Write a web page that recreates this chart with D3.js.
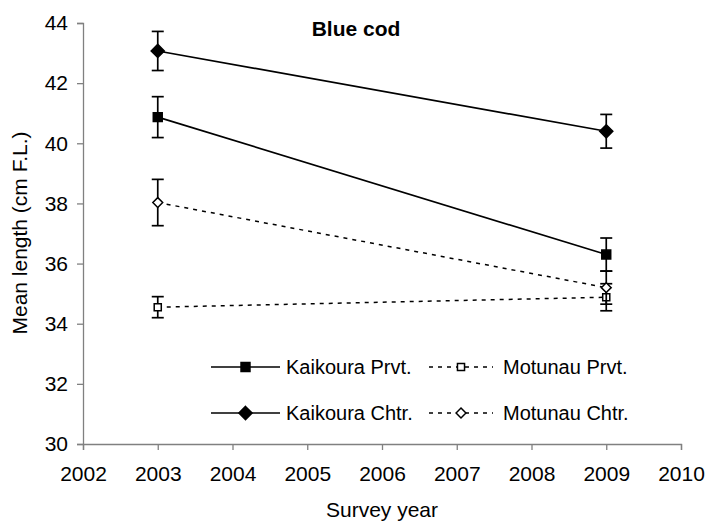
<!DOCTYPE html>
<html>
<head>
<meta charset="utf-8">
<script src="https://cdn.jsdelivr.net/npm/d3@7"></script>
<style>
  html, body { margin: 0; padding: 0; background: #fff; }
  svg { display: block; font-family: "Liberation Sans", Arial, sans-serif; }
</style>
</head>
<body>
<svg id="chart" width="705" height="524"></svg>
<script>
// Survey years and mean lengths (cm F.L.) with error half-widths
const years = [2003, 2009];
const kaikouraPrvt = [40.87, 36.3];
const kaikouraPrvtErr = [0.68, 0.55];
const kaikouraChtr = [43.07, 40.4];
const kaikouraChtrErr = [0.65, 0.56];
const motunauPrvt = [34.55, 34.88];
const motunauPrvtErr = [0.35, 0.45];
const motunauChtr = [38.03, 35.2];
const motunauChtrErr = [0.77, 0.55];

const xTicks = [2002, 2003, 2004, 2005, 2006, 2007, 2008, 2009, 2010];
const yTicks = [30, 32, 34, 36, 38, 40, 42, 44];

const series = [
  { name: "Kaikoura Prvt.", values: kaikouraPrvt, err: kaikouraPrvtErr, symbol: "square", fill: "#000", dashed: false },
  { name: "Kaikoura Chtr.", values: kaikouraChtr, err: kaikouraChtrErr, symbol: "diamond", fill: "#000", dashed: false },
  { name: "Motunau Prvt.", values: motunauPrvt, err: motunauPrvtErr, symbol: "square", fill: "#fff", dashed: true },
  { name: "Motunau Chtr.", values: motunauChtr, err: motunauChtrErr, symbol: "diamond", fill: "#fff", dashed: true }
];

const svg = d3.select("#chart");
const x = d3.scaleLinear().domain([2002, 2010]).range([83, 681]);
const y = d3.scaleLinear().domain([30, 44]).range([444, 23]);

const axisColor = "#808080";
const fontFamily = '"Liberation Sans", Arial, sans-serif';

// Axes
const gx = svg.append("g").attr("transform", "translate(0,444)")
  .call(d3.axisBottom(x).tickValues(xTicks).tickFormat(d3.format("d")).tickSizeOuter(0).tickSize(6).tickPadding(16));
const gy = svg.append("g").attr("transform", "translate(83,0)")
  .call(d3.axisLeft(y).tickValues(yTicks).tickSizeOuter(0).tickSize(6).tickPadding(9));
[gx, gy].forEach(g => {
  g.select(".domain").attr("stroke", axisColor).attr("stroke-width", 1.3);
  g.selectAll(".tick line").attr("stroke", axisColor).attr("stroke-width", 1.3);
  g.selectAll(".tick text").attr("fill", "#000").style("font-size", "21px")
    .style("font-family", fontFamily);
});

// Axis titles and chart title
svg.append("text").attr("x", 382).attr("y", 517).attr("text-anchor", "middle")
  .style("font-size", "21px").text("Survey year");
svg.append("text").attr("transform", "translate(27,233) rotate(-90)").attr("text-anchor", "middle")
  .style("font-size", "21px").text("Mean length (cm F.L.)");
svg.append("text").attr("x", 356).attr("y", 36).attr("text-anchor", "middle")
  .style("font-size", "21px").style("font-weight", "bold").text("Blue cod");

function symbolPath(s) {
  const size = s.symbol === "square" ? (s.fill === "#000" ? 80 : 50) : (s.fill === "#000" ? 110 : 62);
  const type = s.symbol === "square" ? d3.symbolSquare : d3.symbolDiamond2;
  return d3.symbol().type(type).size(size)();
}

const line = d3.line().x(d => x(d.year)).y(d => y(d.value));

series.forEach(s => {
  const pts = years.map((yr, i) => ({ year: yr, value: s.values[i], err: s.err[i] }));
  const g = svg.append("g");
  g.append("path").datum(pts).attr("d", line).attr("fill", "none")
    .attr("stroke", "#000").attr("stroke-width", s.dashed ? 1.5 : 1.7)
    .attr("stroke-dasharray", s.dashed ? "4,5" : null);
  // Error bars
  pts.forEach(p => {
    const cx = x(p.year);
    g.append("line").attr("x1", cx).attr("x2", cx).attr("y1", y(p.value + p.err)).attr("y2", y(p.value - p.err))
      .attr("stroke", "#000").attr("stroke-width", 1.7);
    [p.value + p.err, p.value - p.err].forEach(v => {
      g.append("line").attr("x1", cx - 6).attr("x2", cx + 6).attr("y1", y(v)).attr("y2", y(v))
        .attr("stroke", "#000").attr("stroke-width", 1.7);
    });
  });
  g.selectAll("path.pt").data(pts).enter().append("path").attr("class", "pt")
    .attr("transform", d => `translate(${x(d.year)},${y(d.value)})`)
    .attr("d", symbolPath(s)).attr("fill", s.fill).attr("stroke", "#000").attr("stroke-width", 1.5);
});

// Legend
const legendItems = [
  { s: series[0], x0: 211, x1: 280, tx: 286, ty: 367 },
  { s: series[2], x0: 429, x1: 493, tx: 503, ty: 367 },
  { s: series[1], x0: 211, x1: 280, tx: 286, ty: 413 },
  { s: series[3], x0: 429, x1: 493, tx: 503, ty: 413 }
];
legendItems.forEach(li => {
  const g = svg.append("g");
  g.append("line").attr("x1", li.x0).attr("x2", li.x1).attr("y1", li.ty).attr("y2", li.ty)
    .attr("stroke", "#000").attr("stroke-width", li.s.dashed ? 1.5 : 1.7)
    .attr("stroke-dasharray", li.s.dashed ? "4,5" : null);
  g.append("path").attr("transform", `translate(${(li.x0 + li.x1) / 2},${li.ty})`)
    .attr("d", symbolPath(li.s)).attr("fill", li.s.fill).attr("stroke", "#000").attr("stroke-width", 1.5);
  g.append("text").attr("x", li.tx).attr("y", li.ty + 7).style("font-size", "20px").text(li.s.name);
});
</script>
</body>
</html>
